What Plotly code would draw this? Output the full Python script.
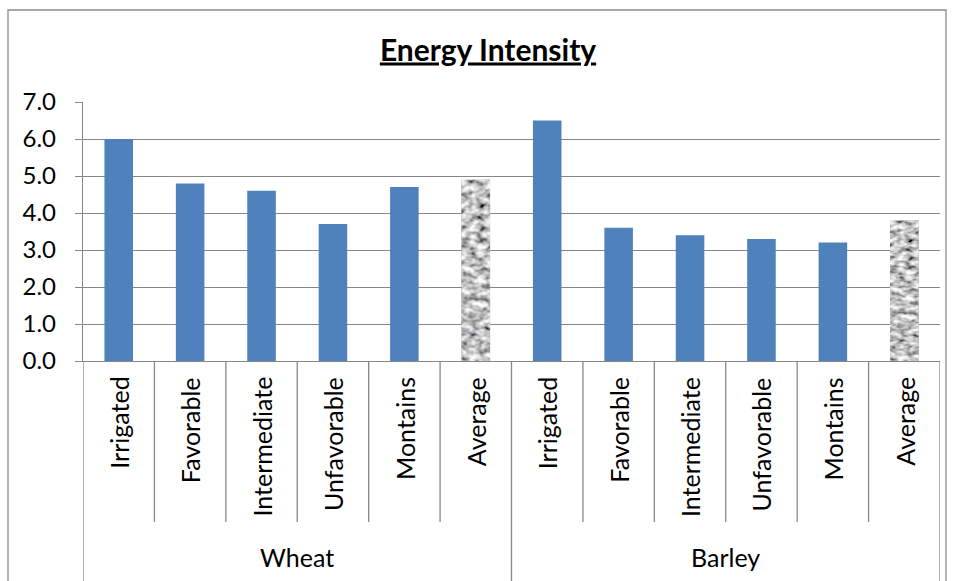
import base64
import plotly.graph_objects as go

# Energy intensity by crop and agro-ecological zone
groups = ["Wheat", "Barley"]
zones = ["Irrigated", "Favorable", "Intermediate", "Unfavorable", "Montains", "Average"]
wheat_values = [6.0, 4.8, 4.6, 3.7, 4.7, 4.9]
barley_values = [6.5, 3.6, 3.4, 3.3, 3.2, 3.8]
y_ticks = [0, 1, 2, 3, 4, 5, 6, 7]

W, H = 959, 581
BLUE = "#4F81BD"
GRID = "#878787"
FONT = "Lato"

labels = []
values = []
group_of = []
for g, vals in zip(groups, [wheat_values, barley_values]):
    for z, v in zip(zones, vals):
        labels.append(z)
        values.append(v)
        group_of.append(g)
xpos = list(range(len(values)))
is_avg = [z == "Average" for z in labels]

# plot area in pixels
px0, px1 = 83, 940
py_top, py_bot = 102, 361


def fx(p):
    return p / W


def fy(p):
    return (H - p) / H


fig = go.Figure()
fig.add_trace(go.Bar(
    x=xpos, y=values, width=0.4,
    marker=dict(color=["#9A9A9A" if a else BLUE for a in is_avg], line=dict(width=0)),
    hoverinfo="skip",
))

# granite texture for the average bars
svg = (
    "<svg xmlns='http://www.w3.org/2000/svg' width='30' height='260'>"
    "<filter id='n' x='0' y='0' width='100%' height='100%'>"
    "<feTurbulence type='fractalNoise' baseFrequency='0.12' numOctaves='2' seed='11'/>"
    "<feColorMatrix type='matrix' values='1.6 0 0 0 -0.25  1.6 0 0 0 -0.25  1.6 0 0 0 -0.24  0 0 0 0 1'/>"
    "<feGaussianBlur stdDeviation='0.5'/>"
    "</filter>"
    "<rect width='30' height='260' filter='url(#n)'/></svg>"
)
src = "data:image/svg+xml;base64," + base64.b64encode(svg.encode()).decode()
images = []
for x, v, a in zip(xpos, values, is_avg):
    if a:
        images.append(dict(source=src, xref="x", yref="y", x=x - 0.2, y=v,
                           sizex=0.4, sizey=v, sizing="fill", layer="above",
                           xanchor="left", yanchor="top"))

shapes = []
# outer chart frame
shapes.append(dict(type="rect", xref="paper", yref="paper",
                   x0=fx(8), x1=fx(946), y0=fy(10), y1=-0.05,
                   line=dict(color="#8C8C8C", width=1.3), fillcolor="rgba(0,0,0,0)"))
# category dividers below the axis
n = len(values)
for k in range(n + 1):
    outer = (k % len(zones) == 0)
    shapes.append(dict(type="line", xref="x", yref="paper",
                       x0=k - 0.5, x1=k - 0.5, y0=fy(py_bot),
                       y1=-0.02 if outer else fy(522),
                       line=dict(color=GRID, width=1.3)))

annotations = []
for x, lab in zip(xpos, labels):
    annotations.append(dict(x=x, y=fy(375), xref="x", yref="paper", text=lab,
                            textangle=-90, showarrow=False, xanchor="center",
                            yanchor="top", font=dict(family=FONT, size=25, color="black")))
for gi, g in enumerate(groups):
    annotations.append(dict(x=gi * len(zones) + (len(zones) - 1) / 2, y=fy(557),
                            xref="x", yref="paper", text=g, showarrow=False,
                            xanchor="center", yanchor="middle",
                            font=dict(family=FONT, size=25, color="black")))

fig.update_layout(
    width=W, height=H,
    margin=dict(l=0, r=0, t=0, b=0, autoexpand=False),
    paper_bgcolor="white", plot_bgcolor="white",
    showlegend=False,
    title=dict(text="<b>Energy Intensity</b>", x=fx(488), y=fy(50), xanchor="center",
               yanchor="middle", xref="paper", yref="container",
               font=dict(family=FONT, size=30, color="black", lineposition="under")),
    xaxis=dict(domain=[fx(px0), fx(px1)], range=[-0.5, n - 0.5], showticklabels=False,
               showgrid=False, zeroline=False, showline=True, linecolor=GRID, linewidth=1.3,
               ticks="", automargin=False),
    yaxis=dict(domain=[fy(py_bot), fy(py_top)], range=[0, 7], tickvals=y_ticks,
               tickformat=".1f", showgrid=True, gridcolor=GRID, gridwidth=1.3,
               zeroline=False, showline=True, linecolor=GRID, linewidth=1.3,
               ticks="outside", ticklen=7, tickcolor=GRID, tickwidth=1.3,
               ticklabelstandoff=14, automargin=False,
               tickfont=dict(family=FONT, size=24, color="black")),
    shapes=shapes, annotations=annotations, images=images,
    bargap=0.6,
)

fig.write_html("out.html")
